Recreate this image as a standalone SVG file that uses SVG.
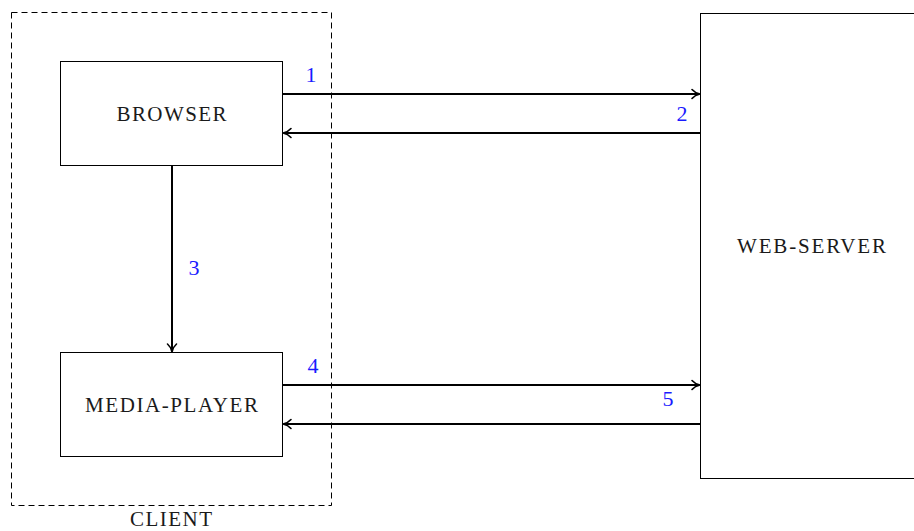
<svg xmlns="http://www.w3.org/2000/svg" width="914" height="531" viewBox="0 0 914 531">
<defs>
<marker id="arr" markerWidth="12" markerHeight="12" refX="9" refY="6" orient="auto" markerUnits="userSpaceOnUse">
<path d="M2,1.5 Q5,5 10,6 Q5,7 2,10.5" fill="none" stroke="#000" stroke-width="1.6" stroke-linecap="round"/>
</marker>
</defs>
<style>
.box{fill:#fff;stroke:#000;stroke-width:1}
.lbl{font-family:"Liberation Serif",serif;font-size:21px;fill:#1a1a1a;text-anchor:middle}
.num{font-family:"Liberation Serif",serif;font-size:22px;fill:#1a1aff;text-anchor:middle}
.arrow{stroke:#000;stroke-width:2;fill:none;marker-end:url(#arr)}
</style>
<rect width="914" height="531" fill="#fff"/>
<g id="client">
<rect x="11.5" y="12.5" width="320" height="493" fill="none" stroke="#000" stroke-width="1" stroke-dasharray="6,4"/>
<text class="lbl" x="171" y="526" textLength="82" lengthAdjust="spacing">CLIENT</text>
</g>
<g id="browser">
<rect class="box" x="60.5" y="61.5" width="222" height="104"/>
<text class="lbl" x="171.5" y="121" textLength="110" lengthAdjust="spacing">BROWSER</text>
</g>
<g id="media-player">
<rect class="box" x="60.5" y="352.5" width="222" height="104"/>
<text class="lbl" x="171.5" y="412" textLength="173" lengthAdjust="spacing">MEDIA-PLAYER</text>
</g>
<g id="web-server">
<rect class="box" x="700.5" y="13.5" width="230" height="465"/>
<text class="lbl" x="811.5" y="253" textLength="149" lengthAdjust="spacing">WEB-SERVER</text>
</g>
<g id="connectors">
<line class="arrow" x1="283" y1="94" x2="699" y2="94"/>
<line class="arrow" x1="700" y1="133" x2="284" y2="133"/>
<line class="arrow" x1="172" y1="166" x2="172" y2="351"/>
<line class="arrow" x1="283" y1="385" x2="699" y2="385"/>
<line class="arrow" x1="700" y1="424" x2="284" y2="424"/>
<text class="num" x="311" y="82">1</text>
<text class="num" x="682" y="121">2</text>
<text class="num" x="194" y="275">3</text>
<text class="num" x="313" y="373">4</text>
<text class="num" x="668" y="406">5</text>
</g>
</svg>
